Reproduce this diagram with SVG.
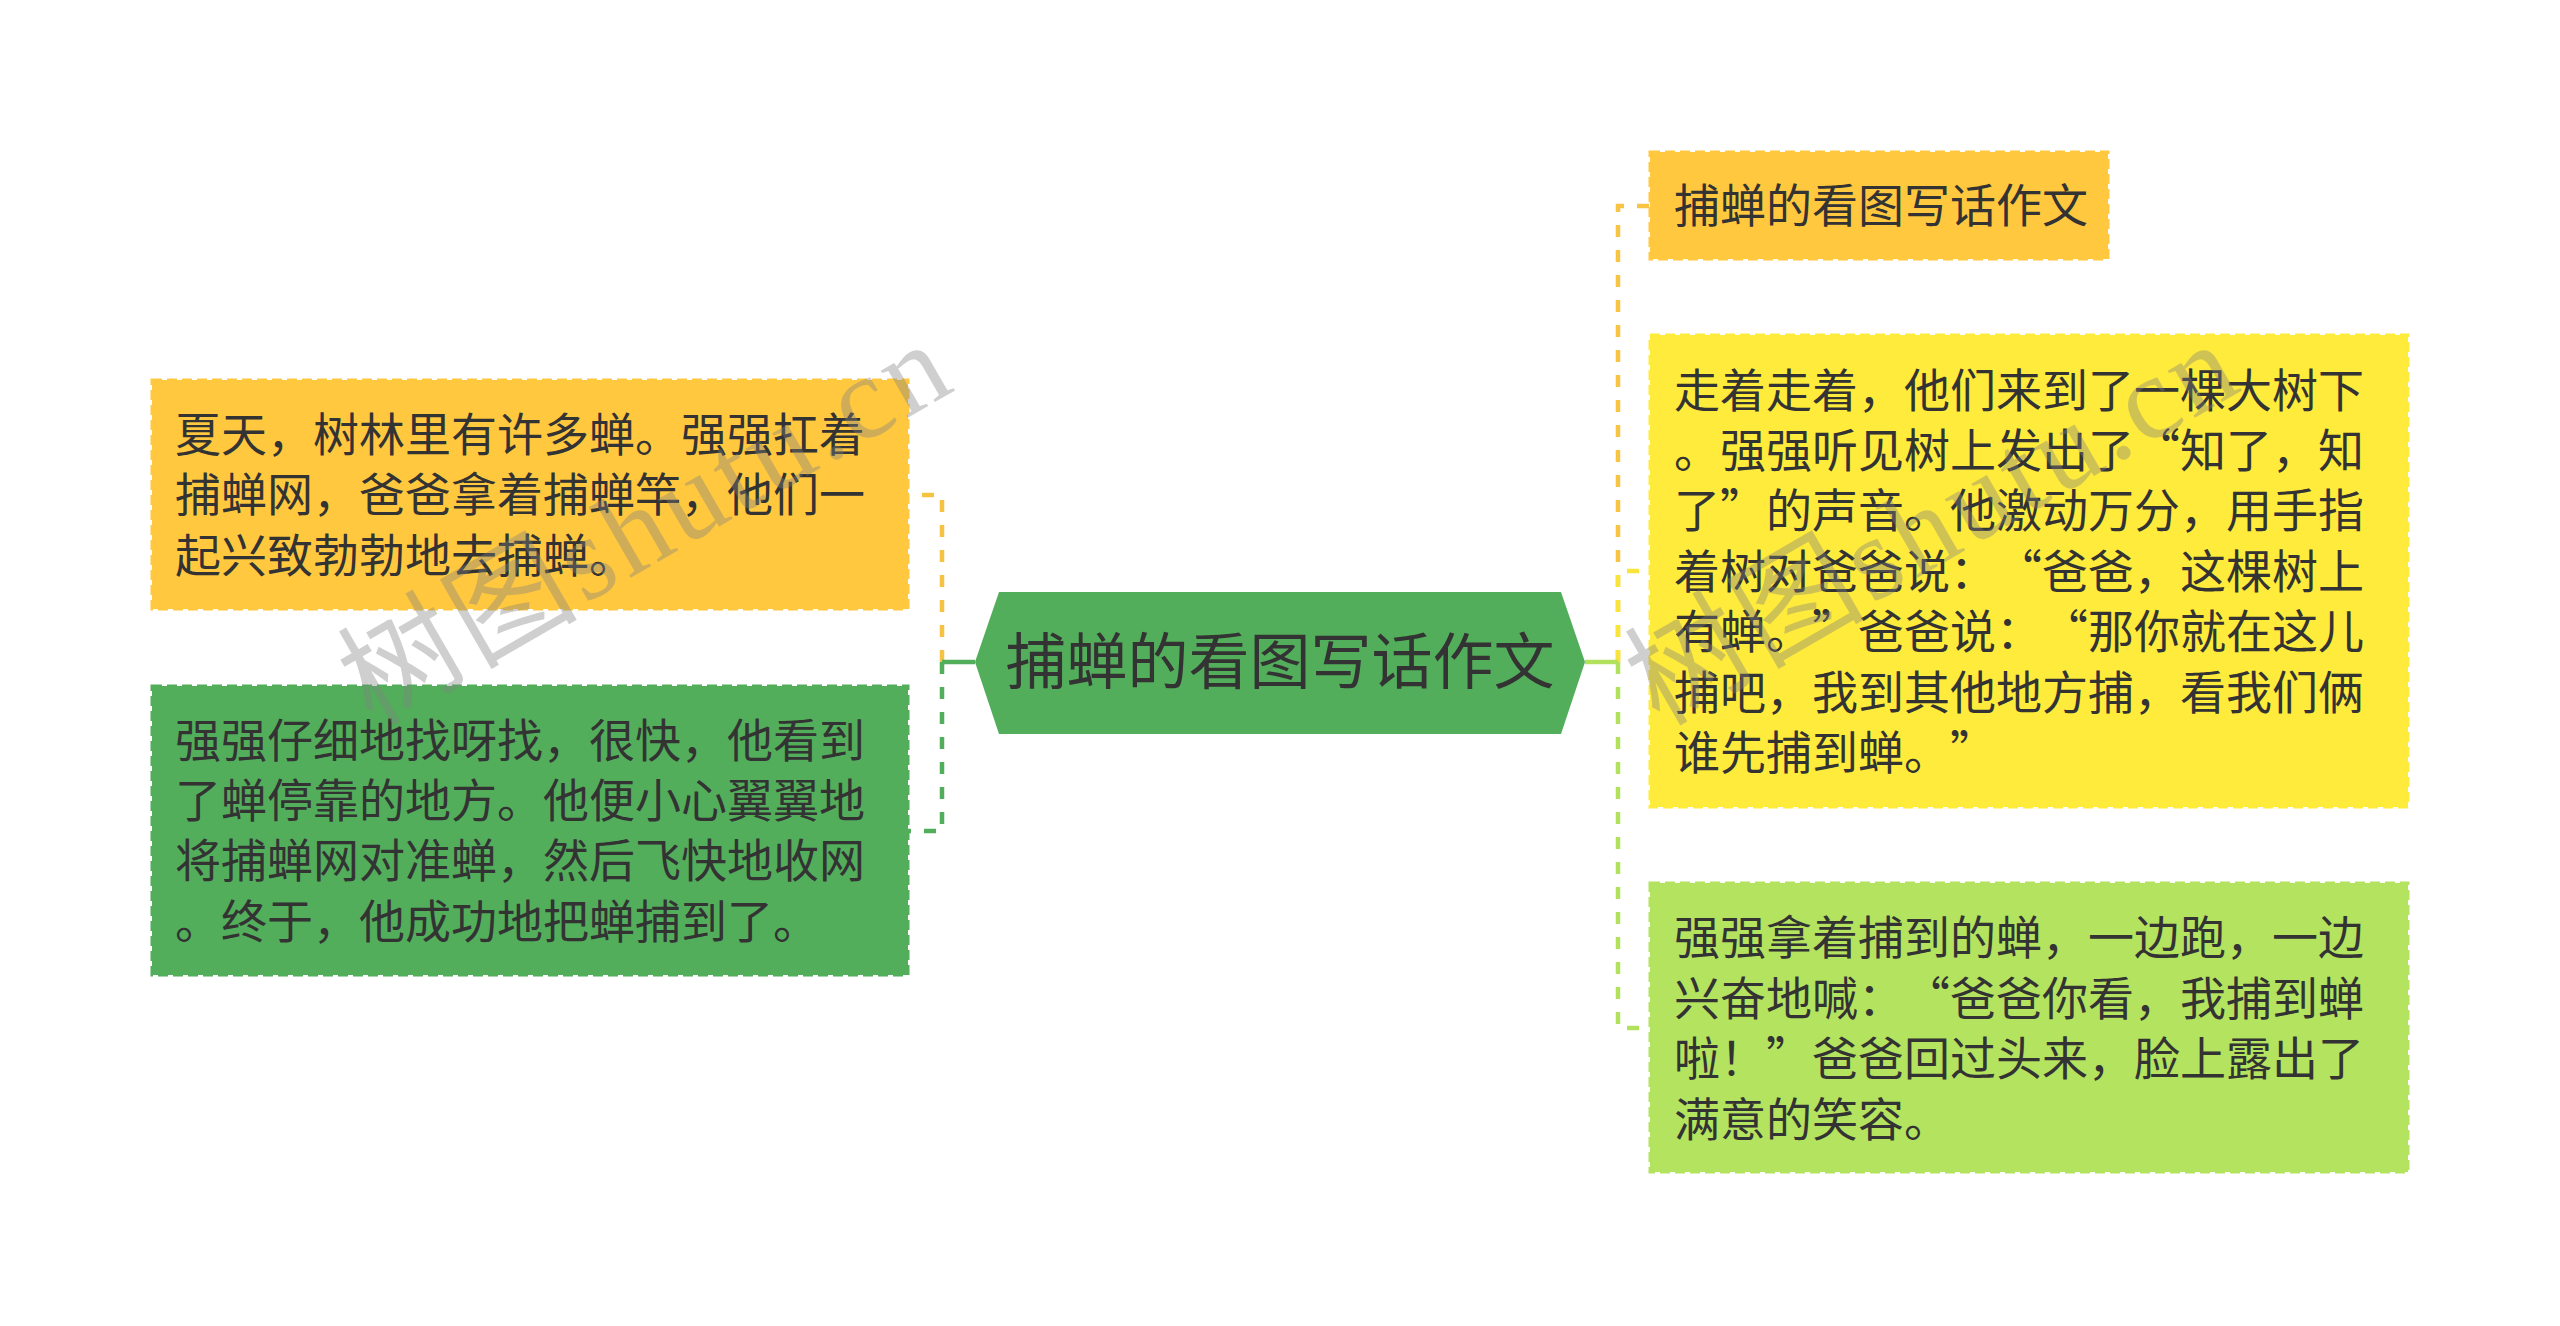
<svg xmlns="http://www.w3.org/2000/svg" width="2560" height="1326" viewBox="0 0 2560 1326">
<style>
.t{font-family:"Noto Sans CJK SC","Noto Sans",sans-serif;font-size:46px;fill:#333333;text-spacing-trim:space-all}
.root{font-family:"Noto Sans CJK SC","Noto Sans",sans-serif;font-size:61px;fill:#333333}
.box{stroke-width:3;stroke-dasharray:10 5}
.conn{fill:none;stroke-width:4.5;stroke-dasharray:12 13}
.solid{fill:none;stroke-width:4.5}
.wm{font-family:"Liberation Serif","Noto Sans CJK SC",serif;font-size:118px;fill:#808080;fill-opacity:0.38}
</style>
<rect width="2560" height="1326" fill="#ffffff"/>
<g id="connectors">
  <path class="conn" d="M942,662 V495 H908" stroke="#F5C242"/>
  <path class="conn" d="M942,662 V831 H908" stroke="#52AE5B"/>
  <path class="solid" d="M942,662 H975" stroke="#52AE5B"/>
  <path class="conn" d="M1618,662 V206 H1650" stroke="#F7C443"/>
  <path class="conn" d="M1618,662 V571 H1650" stroke="#F9E43C"/>
  <path class="conn" d="M1618,662 V1028 H1650" stroke="#B2E15D"/>
  <path class="solid" d="M1585,662 H1618" stroke="#B2E15D"/>
</g>
<g id="root">
  <polygon points="975,662 999,592 1561,592 1585,662 1561,734 999,734" fill="#52AE5B"/>
  <text class="root" x="1280" y="684" text-anchor="middle">捕蝉的看图写话作文</text>
</g>
<g id="left1">
  <rect class="box" x="152" y="380" width="756" height="229" fill="#FFC83F" stroke="#FFC83F"/>
  <text class="t" x="175" y="451">夏天，树林里有许多蝉。强强扛着</text>
  <text class="t" x="175" y="511">捕蝉网，爸爸拿着捕蝉竿，他们一</text>
  <text class="t" x="175" y="572">起兴致勃勃地去捕蝉。</text>
</g>
<g id="left2">
  <rect class="box" x="152" y="686" width="756" height="289" fill="#52AE5B" stroke="#52AE5B"/>
  <text class="t" x="175" y="757">强强仔细地找呀找，很快，他看到</text>
  <text class="t" x="175" y="817">了蝉停靠的地方。他便小心翼翼地</text>
  <text class="t" x="175" y="877">将捕蝉网对准蝉，然后飞快地收网</text>
  <text class="t" x="175" y="938">。终于，他成功地把蝉捕到了。</text>
</g>
<g id="right1">
  <rect class="box" x="1650" y="152" width="458" height="107" fill="#FFC83F" stroke="#FFC83F"/>
  <text class="t" x="1674" y="222">捕蝉的看图写话作文</text>
</g>
<g id="right2">
  <rect class="box" x="1650" y="335" width="758" height="472" fill="#FFEB3B" stroke="#FFEB3B"/>
  <text class="t" x="1674" y="407">走着走着，他们来到了一棵大树下</text>
  <text class="t" x="1674" y="467">。强强听见树上发出了“知了，知</text>
  <text class="t" x="1674" y="527">了”的声音。他激动万分，用手指</text>
  <text class="t" x="1674" y="588">着树对爸爸说：“爸爸，这棵树上</text>
  <text class="t" x="1674" y="648">有蝉。”爸爸说：“那你就在这儿</text>
  <text class="t" x="1674" y="709">捕吧，我到其他地方捕，看我们俩</text>
  <text class="t" x="1674" y="769">谁先捕到蝉。”</text>
</g>
<g id="right3">
  <rect class="box" x="1650" y="883" width="758" height="289" fill="#B3E35F" stroke="#B3E35F"/>
  <text class="t" x="1674" y="954">强强拿着捕到的蝉，一边跑，一边</text>
  <text class="t" x="1674" y="1015">兴奋地喊：“爸爸你看，我捕到蝉</text>
  <text class="t" x="1674" y="1075">啦！”爸爸回过头来，脸上露出了</text>
  <text class="t" x="1674" y="1136">满意的笑容。</text>
</g>
<g id="watermarks">
  <text class="wm" transform="translate(372,727) rotate(-30)" textLength="675" lengthAdjust="spacing">树图shutu.cn</text>
  <text class="wm" transform="translate(1659,727) rotate(-30)" textLength="675" lengthAdjust="spacing">树图shutu.cn</text>
</g>
</svg>
